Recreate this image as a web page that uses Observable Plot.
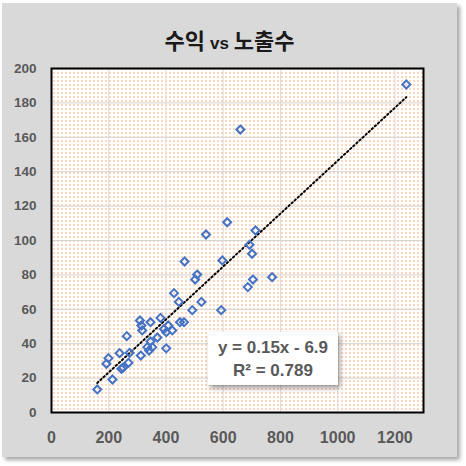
<!DOCTYPE html>
<html>
<head>
<meta charset="utf-8">
<script src="https://cdn.jsdelivr.net/npm/d3@7"></script>
<script src="https://cdn.jsdelivr.net/npm/@observablehq/plot@0.6"></script>
<style>
  html, body { margin: 0; padding: 0; width: 466px; height: 466px; background: #ffffff; overflow: hidden; }
  #card { position: absolute; left: 2px; top: 3px; width: 455px; height: 454px; background: #d9d9d9;
          box-shadow: 3px 3px 4px rgba(0,0,0,0.35); }
  #title { position: absolute; left: 0; top: 21px; width: 455px; text-align: center; white-space: nowrap;
           font-family: "Noto Sans CJK KR", sans-serif; font-weight: bold; font-size: 22px; line-height: 30px; color: #1a1a1a; }
  #title .vs { font-family: "Liberation Sans", sans-serif; font-size: 17px; }
  #chart { position: absolute; left: 0; top: 55px; }
  #eq { position: absolute; left: 208px; top: 332px; width: 130px; height: 53px; background: #ffffff;
        box-shadow: 2px 3px 5px rgba(0,0,0,0.4); text-align: center;
        font-family: "Liberation Sans", sans-serif; font-weight: bold; font-size: 17px; line-height: 23px; color: #595959;
        padding-top: 4px; box-sizing: border-box; }
</style>
</head>
<body>
<div id="card"><div id="title"></div></div>
<div id="chart"></div>
<div id="eq"></div>
<script>
// ---- data ----
const titleParts = ["수익", "vs", "노출수"];
const impressions = [1240, 660, 614, 540, 713, 692, 701, 597, 465, 509, 502, 704, 771, 686, 428, 445, 524, 492, 593,
  381, 346, 449, 463, 309, 314, 317, 408, 422, 401, 393, 370, 346, 335, 352, 312, 341, 401, 263, 238, 199, 192, 213,
  160, 244, 250, 269, 273];
const revenue = [190.7, 164.5, 110.6, 103.5, 105.8, 97.5, 92.3, 88.4, 87.8, 80.2, 77.3, 77.3, 78.7, 72.9, 69.4, 64.3,
  64.3, 59.5, 59.5, 55, 52.5, 52.5, 52.5, 53.5, 50.6, 47.7, 50.6, 47.7, 46.7, 48.5, 43.6, 41.3, 38, 38, 33.1, 36, 37.3,
  44.4, 34.5, 31.6, 28.3, 19.2, 13.4, 25.4, 26, 28.9, 34.7];
const xTicks = [0, 200, 400, 600, 800, 1000, 1200];
const xGrid = [200, 400, 600, 800, 1000, 1200];
const yTicks = [0, 20, 40, 60, 80, 100, 120, 140, 160, 180, 200];
const xDomain = [0, 1300];
const yDomain = [0, 200];
const trendSlope = [0.15];
const trendIntercept = [-6.9];
const rSquared = [0.789];

// ---- title & equation ----
document.getElementById("title").innerHTML =
  `${titleParts[0]} <span class="vs">${titleParts[1]}</span> ${titleParts[2]}`;
const b = trendIntercept[0];
document.getElementById("eq").innerHTML =
  `y = ${trendSlope[0]}x ${b < 0 ? "-" : "+"} ${Math.abs(b)}<br>R² = ${rSquared[0]}`;

const data = impressions.map((x, i) => ({x, y: revenue[i]}));

const plot = Plot.plot({
  width: 466,
  height: 400,
  marginLeft: 51,
  marginRight: 43,
  marginTop: 13,
  marginBottom: 43,
  style: {background: "transparent", fontFamily: "Liberation Sans, sans-serif", overflow: "visible"},
  x: {domain: xDomain, label: null},
  y: {domain: yDomain, label: null},
  marks: [
    Plot.frame({fill: "url(#dotpat)", className: "bgframe"}),
    Plot.gridY(yTicks.slice(1, -1), {stroke: "#d4d4d4", strokeOpacity: 1, strokeWidth: 1}),
    Plot.gridX(xGrid, {stroke: "#dcdcdc", strokeOpacity: 1, strokeWidth: 1}),
    Plot.axisX(xTicks, {tickSize: 0, tickPadding: 19, fontSize: 16, fontWeight: "bold", fill: "#595959", label: null,
      tickFormat: d => String(d)}),
    Plot.axisY(yTicks, {tickSize: 0, tickPadding: 15, fontSize: 13.5, fontWeight: "bold", fill: "#595959", label: null,
      tickFormat: d => String(d)}),
    Plot.linearRegressionY(data, {x: "x", y: "y", ci: 0, stroke: "#000000", strokeWidth: 2, strokeDasharray: "1.6,2.6"}),
    Plot.dot(data, {x: "x", y: "y", symbol: "diamond2", r: 3.6, stroke: "#4472c4", strokeWidth: 2, fill: "none"}),
    Plot.frame({stroke: "#000000", strokeWidth: 2})
  ]
});

// dotted background pattern
const ns = "http://www.w3.org/2000/svg";
const defs = document.createElementNS(ns, "defs");
defs.innerHTML = `<pattern id="dotpat" patternUnits="userSpaceOnUse" width="4" height="4">
  <rect width="4" height="4" fill="#ffffff" shape-rendering="crispEdges"></rect>
  <rect x="1" y="1" width="1.3" height="1.3" fill="#f25a00" shape-rendering="crispEdges"></rect>
</pattern>`;
plot.insertBefore(defs, plot.firstChild);
d3.select(plot).selectAll(".bgframe rect, rect.bgframe").attr("fill", "url(#dotpat)");

document.getElementById("chart").appendChild(plot);
</script>
</body>
</html>
